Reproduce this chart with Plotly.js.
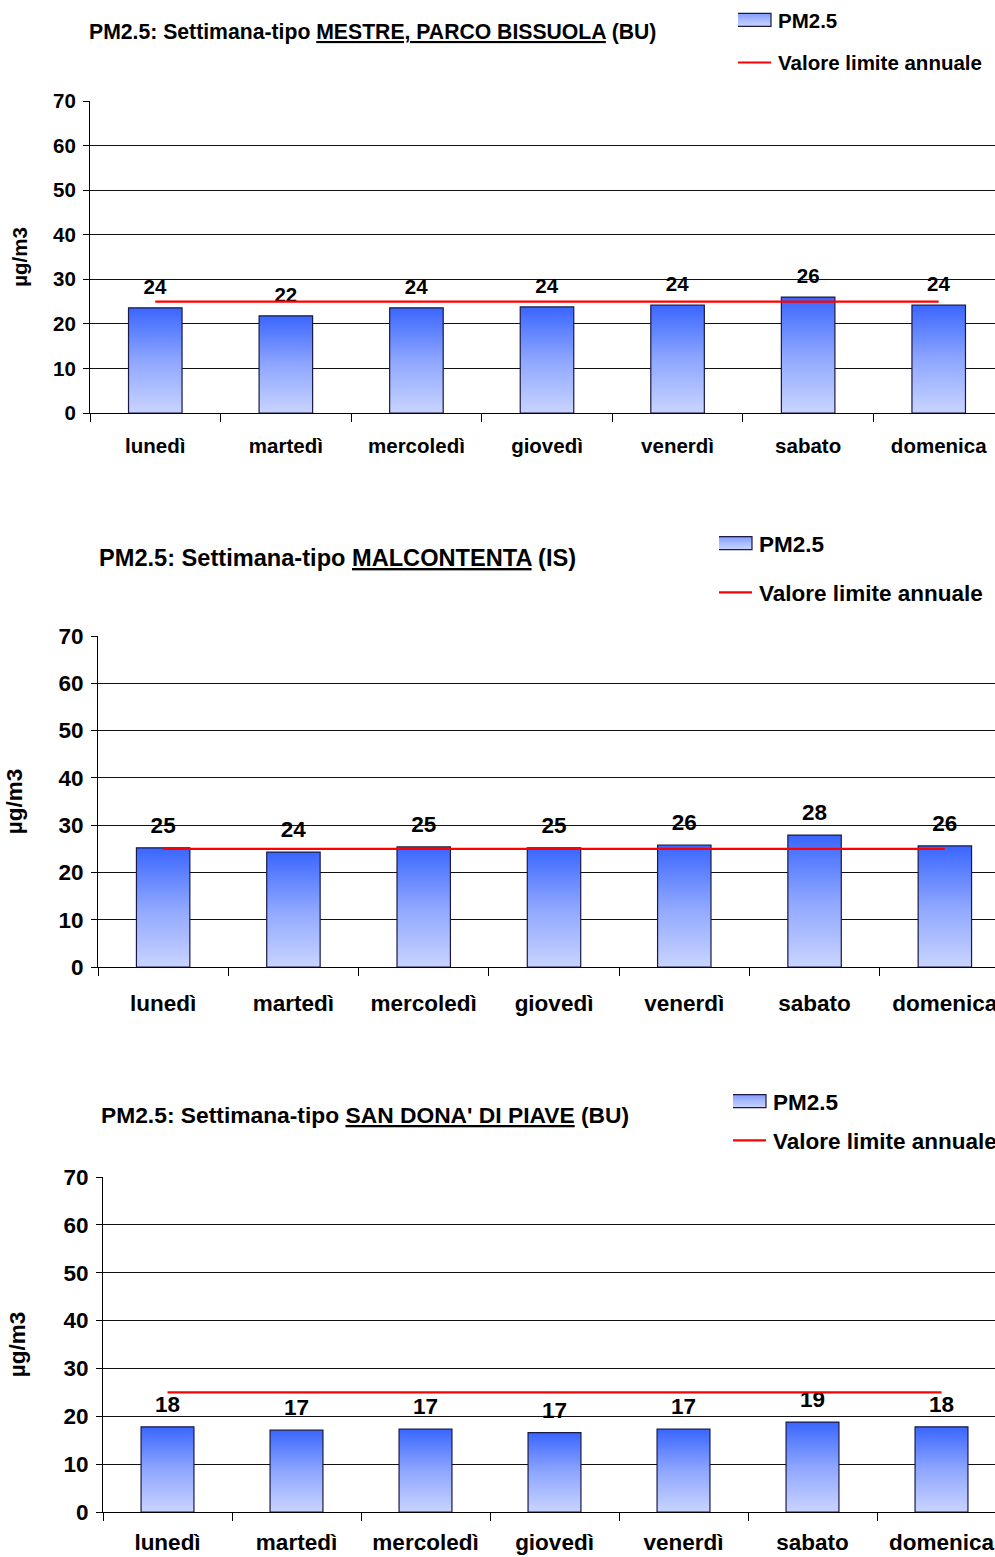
<!DOCTYPE html>
<html>
<head>
<meta charset="utf-8">
<script src="https://cdn.plot.ly/plotly-3.0.1.min.js"></script>
<style>
html, body { margin: 0; padding: 0; background: #fff; overflow: hidden; }
#chart { width: 1010px; height: 1557px; }
</style>
</head>
<body>
<div id="chart"></div>
<script>
// ---- data ----
const days = ['lunedì', 'martedì', 'mercoledì', 'giovedì', 'venerdì', 'sabato', 'domenica'];
const mestreParcoBissuola = [23.6, 21.8, 23.6, 23.8, 24.2, 26.0, 24.2];
const malcontenta = [25.2, 24.3, 25.4, 25.2, 25.8, 27.9, 25.6];
const sanDonaDiPiave = [17.8, 17.1, 17.3, 16.6, 17.3, 18.8, 17.8];
const limiteAnnuale = [25, 25, 25, 25, 25, 25, 25];
const yTicks = [0, 10, 20, 30, 40, 50, 60, 70];
const titles = [
  'PM2.5: Settimana-tipo <u>MESTRE, PARCO BISSUOLA</u> (BU)',
  'PM2.5: Settimana-tipo <u>MALCONTENTA</u> (IS)',
  'PM2.5: Settimana-tipo <u>SAN DONA\' DI PIAVE</u> (BU)'
];
const seriesName = 'PM2.5';
const limitName = 'Valore limite annuale';
const yTitle = 'µg/m3';

// ---- layout helpers ----
const W = 1010, H = 1557;
const FONT = 'Liberation Sans, Arial, sans-serif';
const BARCOLOR = 'rgb(61, 107, 255)';
const fx = px => px / W;
const fy = py => 1 - py / H;

const panels = [
  { vals: mestreParcoBissuola, x0: 90, x1: 1004, yTop: 101, yBot: 413, fs: 20.5, tfs: 21.2,
    titleX: 87, titleY: 32, legX: 738, legY: 0, legGap: 13, ytStand: 19, xlStand: 14 },
  { vals: malcontenta, x0: 98, x1: 1010, yTop: 636, yBot: 967, fs: 22.5, tfs: 23.6,
    titleX: 97, titleY: 558, legX: 719, legY: 522, legGap: 17, ytStand: 29, xlStand: 16 },
  { vals: sanDonaDiPiave, x0: 103, x1: 1006, yTop: 1177, yBot: 1512, fs: 22.5, tfs: 22.8,
    titleX: 99, titleY: 1115, legX: 733, legY: 1080, legGap: 7, ytStand: 31, xlStand: 10 }
];

const data = [];
const layout = {
  width: W, height: H,
  margin: { l: 0, r: 0, t: 0, b: 0, pad: 0 },
  paper_bgcolor: '#fff', plot_bgcolor: '#fff',
  font: { family: FONT, color: '#000', weight: 'bold' },
  showlegend: true,
  annotations: []
};

panels.forEach((p, i) => {
  const n = i === 0 ? '' : String(i + 1);
  const xa = 'x' + n, ya = 'y' + n;
  const leg = 'legend' + n;
  data.push({
    type: 'bar', x: days, y: p.vals, name: seriesName,
    xaxis: xa, yaxis: ya, legend: leg, legendgroup: 'bar' + n,
    width: 0.41,
    marker: { color: BARCOLOR, line: { color: '#1a1a44', width: 1.2 } },
    texttemplate: '%{y:.0f}', textposition: 'outside', cliponaxis: false,
    textfont: { family: FONT, size: p.fs, color: '#000', weight: 'bold' },
    hoverinfo: 'x+y'
  });
  data.push({
    type: 'scatter', mode: 'lines', x: days, y: limiteAnnuale, name: limitName,
    xaxis: xa, yaxis: ya, legend: leg, legendgroup: 'lim' + n,
    line: { color: '#ff0000', width: 2.2 }, cliponaxis: false
  });
  layout['xaxis' + n] = {
    domain: [fx(p.x0), fx(p.x1)], anchor: ya,
    type: 'category', range: [-0.5, 6.5],
    showline: true, linecolor: '#000', linewidth: 1,
    ticks: 'outside', tickson: 'boundaries', ticklen: 8, tickcolor: '#000', tickwidth: 1,
    showgrid: false, zeroline: false,
    ticklabelstandoff: p.xlStand,
    tickfont: { family: FONT, size: p.fs, color: '#000', weight: 'bold' }
  };
  layout['yaxis' + n] = {
    domain: [fy(p.yBot), fy(p.yTop)], anchor: xa,
    range: [0, 70], tickvals: yTicks,
    showline: true, linecolor: '#000', linewidth: 1,
    ticks: 'outside', ticklen: 6, tickcolor: '#000', tickwidth: 1,
    ticklabelstandoff: 3,
    showgrid: true, gridcolor: '#111', gridwidth: 1, zeroline: false,
    tickfont: { family: FONT, size: p.fs, color: '#000', weight: 'bold' },
    title: { text: yTitle, standoff: p.ytStand, font: { family: FONT, size: p.fs, color: '#000', weight: 'bold' } }
  };
  layout[leg] = {
    x: fx(p.legX), y: fy(p.legY), xanchor: 'left', yanchor: 'top',
    xref: 'paper', yref: 'paper',
    bgcolor: 'rgba(0,0,0,0)', borderwidth: 0,
    traceorder: 'grouped', tracegroupgap: p.legGap,
    font: { family: FONT, size: p.fs, color: '#000', weight: 'bold' }
  };
  layout.annotations.push({
    text: titles[i], xref: 'paper', yref: 'paper',
    x: fx(p.titleX), y: fy(p.titleY), xanchor: 'left', yanchor: 'middle',
    showarrow: false,
    font: { family: FONT, size: p.tfs, color: '#000', weight: 'bold' }
  });
});

Plotly.newPlot('chart', data, layout, { displayModeBar: false, staticPlot: true }).then(gd => {
  const svg = gd.querySelector('svg.main-svg');
  const NS = 'http://www.w3.org/2000/svg';
  let defs = svg.querySelector('defs');
  if (!defs) { defs = document.createElementNS(NS, 'defs'); svg.insertBefore(defs, svg.firstChild); }
  const grad = document.createElementNS(NS, 'linearGradient');
  grad.setAttribute('id', 'barGrad');
  grad.setAttribute('x1', '0'); grad.setAttribute('y1', '0');
  grad.setAttribute('x2', '0'); grad.setAttribute('y2', '1');
  [['0', '#3a66ff'], ['0.5', '#8ea6ff'], ['1', '#c9d4ff']].forEach(([o, c]) => {
    const s = document.createElementNS(NS, 'stop');
    s.setAttribute('offset', o); s.setAttribute('stop-color', c);
    grad.appendChild(s);
  });
  defs.appendChild(grad);
  const lgrad = grad.cloneNode(true);
  lgrad.setAttribute('id', 'legGrad');
  lgrad.querySelectorAll('stop')[0].setAttribute('stop-color', '#7f9cff');
  lgrad.querySelectorAll('stop')[1].setAttribute('stop-color', '#a9bbff');
  lgrad.querySelectorAll('stop')[2].setAttribute('stop-color', '#c9d4ff');
  defs.appendChild(lgrad);
  gd.querySelectorAll('.barlayer .point path').forEach(p => {
    p.style.fill = 'url(#barGrad)';
  });
  gd.querySelectorAll('.barlayer .point text').forEach(t => {
    t.setAttribute('transform', 'translate(0,-7) ' + (t.getAttribute('transform') || ''));
  });
  gd.querySelectorAll('.legendpoints path').forEach(p => {
    const f = p.style.fill;
    if (f && f.replace(/\s/g, '') === BARCOLOR.replace(/\s/g, '')) {
      p.setAttribute('d', 'M-30,6.5H13V-6.5H-30Z');
      p.style.fill = 'url(#legGrad)';
    }
  });
  gd.querySelectorAll('.legendlines path').forEach(p => {
    p.setAttribute('d', 'M-10,0h43');
  });
});
</script>
</body>
</html>
